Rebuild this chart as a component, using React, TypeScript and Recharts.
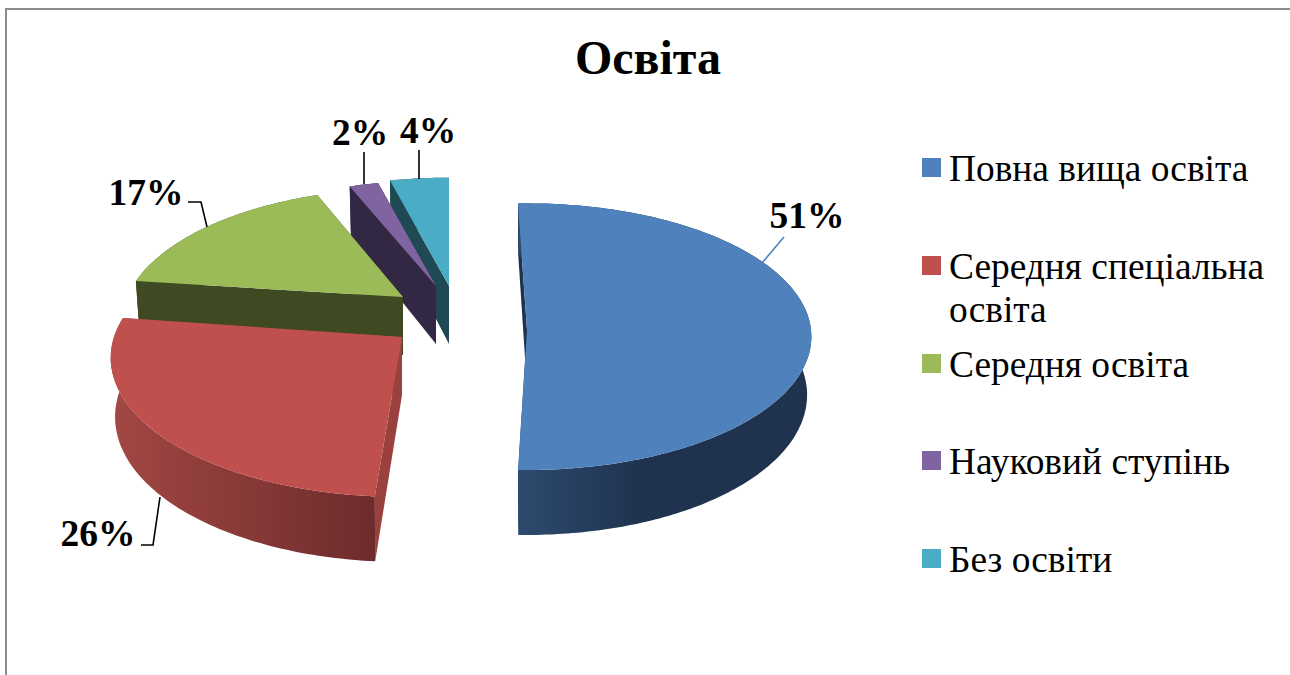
import { Legend, Pie, PieChart } from "recharts";

const FONT = '"Liberation Serif", "Times New Roman", serif';

const categories = [
  "Повна вища освіта",
  "Середня спеціальна освіта",
  "Середня освіта",
  "Науковий ступінь",
  "Без освіти",
];
const shares = [51, 26, 17, 2, 4];
const colors = ["#4f81bd", "#c0504d", "#9bbb59", "#8064a2", "#4bacc6"];

// side colours of each wedge: wall gradient (left, mid, right) and cut face
const sideColors = [
  { left: "#2d4a6e", mid: "#1f334f", midAt: 0.42, right: "#1f334f", cut: "#1f334f" },
  { left: "#a34845", mid: "#9a4340", midAt: 0.15, right: "#6d2b2c", cut: "#9a403d" },
  { left: "#404a22", mid: "#404a22", midAt: 0.5, right: "#404a22", cut: "#404a22" },
  { left: "#322843", mid: "#322843", midAt: 0.5, right: "#322843", cut: "#322843" },
  { left: "#1f4953", mid: "#1f4953", midAt: 0.5, right: "#1f4953", cut: "#1f4953" },
];

// how each wedge sits in the 3D view: explode offset from the pie centre,
// projected radii, perspective strength and small rotation
const wedgeViews = [
  { dx: 64, dy: 13, rx: 284, ry: 133, p: 0.05, tilt: -1.9 },
  { dx: -61, dy: 20, rx: 288, ry: 136, p: 0.15, tilt: 1 },
  { dx: -60, dy: -20, rx: 276, ry: 130, p: 0.2, tilt: 0 },
  { dx: -27, dy: -31, rx: 278, ry: 127, p: 0.2, tilt: 0 },
  { dx: -14, dy: -31, rx: 283, ry: 130, p: 0.2, tilt: 0 },
];

const labelSpots = [
  { x: 807, y: 228, line: "762,263 784,237", stroke: "#4f81bd" },
  { x: 98, y: 546, line: "141,545 153,545 160,497", stroke: "#000" },
  { x: 146, y: 205, line: "188,202 201,202 207,227", stroke: "#000" },
  { x: 360, y: 145, line: "364,152 364,184", stroke: "#000" },
  { x: 428, y: 143, line: "419,150 419,179", stroke: "#000" },
];

const DEPTH = 58;
const FLOOR_SHRINK = 0.985;

// drawn back to front, so the wedges run counter-clockwise from the last one
const rows = categories
  .map((name, slice) => ({ name, value: shares[slice], fill: colors[slice], slice }))
  .reverse();

const Wedge = (props: any) => {
  const { cx, cy, startAngle, endAngle, payload } = props;
  const slice = payload.slice;
  const view = wedgeViews[slice];
  const side = sideColors[slice];
  const ax = cx + view.dx;
  const ay = cy + view.dy;

  const project = (deg: number, floor: boolean) => {
    const a = ((deg + view.tilt) * Math.PI) / 180;
    const d = 1 + view.p * Math.cos(a);
    const k = floor ? FLOOR_SHRINK : 1;
    const x = ax + (k * view.rx * Math.sin(a)) / d;
    let y = ay - (view.ry * Math.cos(a)) / d;
    if (floor) y += DEPTH * (1 - 0.12 * Math.cos(a));
    return `${x.toFixed(1)},${y.toFixed(1)}`;
  };

  // recharts angles run from 3 o'clock, ours clockwise from 12 o'clock
  const from = 90 - Math.max(startAngle, endAngle);
  const to = 90 - Math.min(startAngle, endAngle);
  const degs: number[] = [];
  for (let d = from; d < to; d += 1) degs.push(d);
  degs.push(to);

  const rim = degs.map((d) => project(d, false));
  const floorRim = degs.map((d) => project(d, true)).reverse();
  const apexTop = `${ax},${ay}`;
  const apexFloor = `${ax},${ay + DEPTH}`;
  const gradId = `wall-${slice}`;
  const firstCut = [apexTop, project(to, false), project(to, true), apexFloor];
  const lastCut = [apexTop, project(from, false), project(from, true), apexFloor];

  return (
    <g>
      <defs>
        <linearGradient id={gradId} x1="0" x2="1" y1="0" y2="0">
          <stop offset="0" stopColor={side.left} />
          <stop offset={side.midAt} stopColor={side.mid} />
          <stop offset="1" stopColor={side.right} />
        </linearGradient>
      </defs>
      <polygon points={firstCut.join(" ")} fill={side.cut} />
      <polygon points={lastCut.join(" ")} fill={side.cut} />
      <polygon points={[...rim, ...floorRim].join(" ")} fill={`url(#${gradId})`} />
      <polygon points={[apexTop, ...rim].join(" ")} fill={colors[slice]} />
    </g>
  );
};

const renderLabel = (props: any) => {
  const slice = props.payload?.slice ?? props.slice;
  const spot = labelSpots[slice];
  return (
    <g key={slice}>
      <polyline points={spot.line} fill="none" stroke={spot.stroke} strokeWidth={1.6} />
      <text
        x={spot.x}
        y={spot.y}
        textAnchor="middle"
        fontFamily={FONT}
        fontWeight="bold"
        fontSize={37.5}
        fill="#000"
      >
        {`${shares[slice]}%`}
      </text>
    </g>
  );
};

const LegendList = () => (
  <div style={{ fontFamily: FONT, fontSize: 37.4, lineHeight: "43px", color: "#000" }}>
    {categories.map((name, i) => (
      <div key={name} style={{ height: 97.75, display: "flex", alignItems: "flex-start" }}>
        <span
          style={{
            width: 19,
            height: 19,
            marginTop: 11,
            marginRight: 8,
            flexShrink: 0,
            background: colors[i],
          }}
        />
        <span style={{ width: 330 }}>{name}</span>
      </div>
    ))}
  </div>
);

export default function App() {
  return (
    <div
      style={{
        position: "absolute",
        left: 0,
        top: 0,
        width: 1290,
        height: 675,
        overflow: "hidden",
        background: "#fff",
      }}
    >
      <div
        style={{
          position: "absolute",
          left: 5,
          top: 8,
          width: 1283,
          height: 700,
          borderLeft: "2px solid #8c8c8c",
          borderTop: "2px solid #8c8c8c",
          borderRight: "1px solid #d0d0d0",
        }}
      />
      <PieChart
        width={1290}
        height={675}
        margin={{ top: 0, right: 0, bottom: 0, left: 0 }}
        style={{ position: "absolute", left: 0, top: 0 }}
      >
        <text
          x={648}
          y={74}
          textAnchor="middle"
          fontFamily={FONT}
          fontWeight="bold"
          fontSize={48}
          fill="#000"
        >
          Освіта
        </text>
        <Pie
          data={rows}
          dataKey="value"
          nameKey="name"
          cx={463}
          cy={317}
          outerRadius={280}
          startAngle={90}
          endAngle={450}
          paddingAngle={0}
          stroke="none"
          shape={Wedge}
          activeShape={Wedge}
          inactiveShape={Wedge}
          label={renderLabel}
          labelLine={false}
          isAnimationActive={false}
        />
        <Legend
          content={<LegendList />}
          layout="vertical"
          wrapperStyle={{ position: "absolute", left: 922, top: 147, width: 360, bottom: "auto", right: "auto" }}
        />
      </PieChart>
    </div>
  );
}
